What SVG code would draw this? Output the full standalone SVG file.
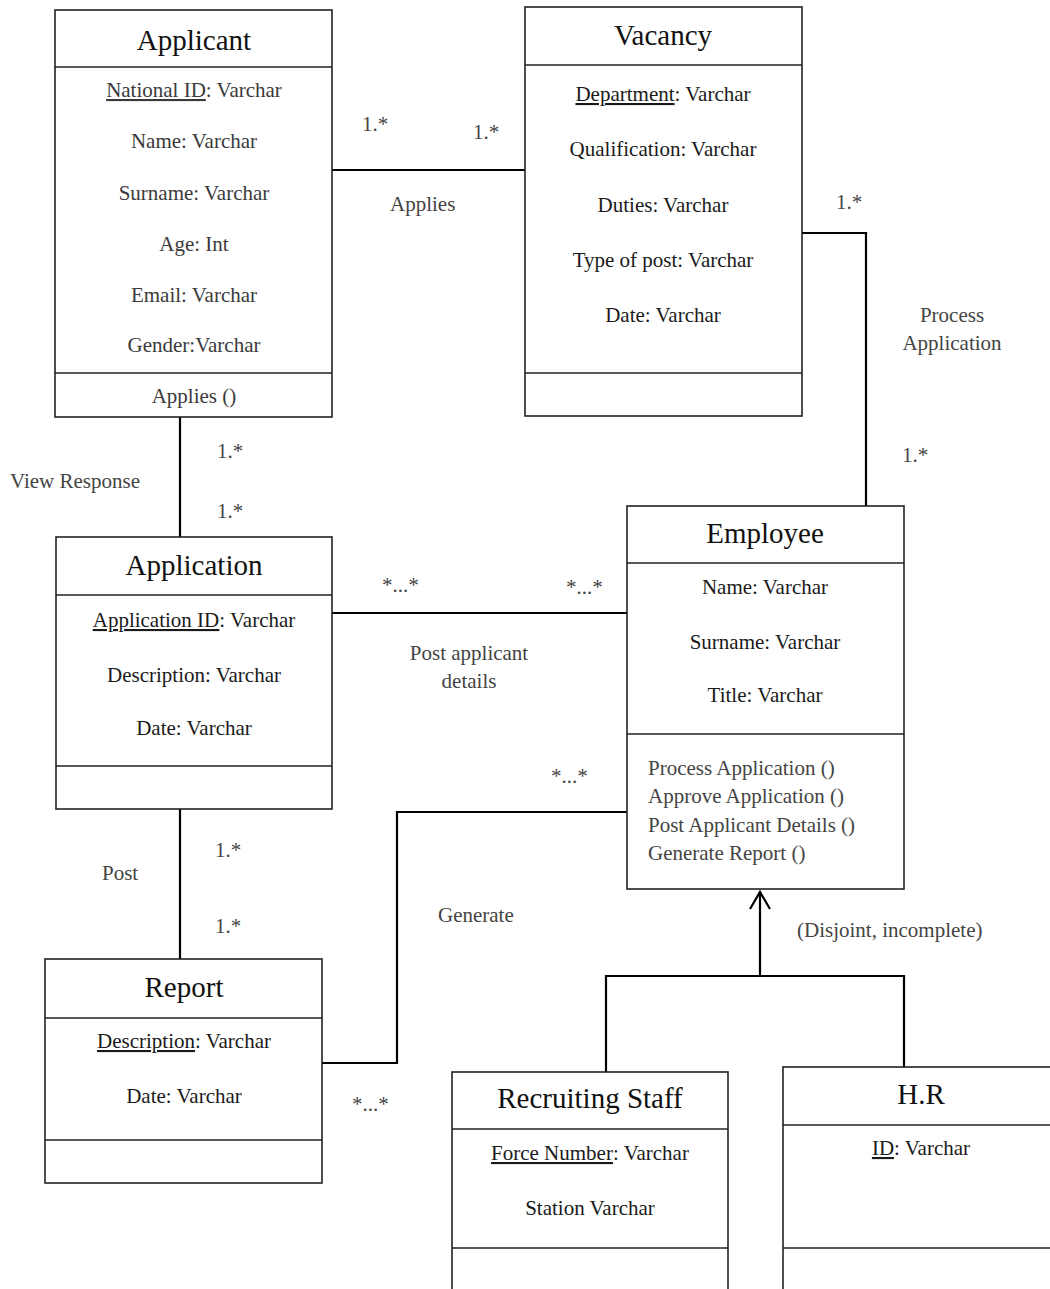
<svg xmlns="http://www.w3.org/2000/svg" width="1050" height="1289" viewBox="0 0 1050 1289">
  <style>
    .box { fill: #fff; stroke: #222; stroke-width: 1.6; }
    .sep { stroke: #222; stroke-width: 1.6; }
    .title { font-family: "Liberation Serif", "Times New Roman", serif; font-size: 29px; fill: #111; text-anchor: middle; }
    .attr { font-family: "Liberation Serif", "Times New Roman", serif; font-size: 21px; fill: #1a1a1a; text-anchor: middle; }
    .soft { fill: #3a3a3a; }
    .op { font-family: "Liberation Serif", "Times New Roman", serif; font-size: 21px; fill: #444; }
    .lbl { font-family: "Liberation Serif", "Times New Roman", serif; font-size: 21px; fill: #444; }
    .mid { text-anchor: middle; }
    .conn { fill: none; stroke: #000; stroke-width: 2.2; }
    .u { text-decoration: underline; }
  </style>
  <defs>
    <!-- open arrowhead for the generalisation, tip at the path end -->
    <marker id="open-arrow" markerUnits="userSpaceOnUse" markerWidth="26" markerHeight="26" refX="22" refY="12" orient="auto" viewBox="0 0 26 26">
      <path d="M5 2 L22 12 L5 22" fill="none" stroke="#000" stroke-width="2.2"/>
    </marker>
  </defs>
  <rect width="1050" height="1289" fill="#fff"/>

  <!-- connectors -->
  <g id="connectors">
    <path class="conn" d="M332 170 H525"/>
    <path class="conn" d="M802 233 H866 V506"/>
    <path class="conn" d="M180 417 V537"/>
    <path class="conn" d="M332 613 H627"/>
    <path class="conn" d="M180 809 V959"/>
    <path class="conn" d="M322 1063 H397 V812 H627"/>
    <path class="conn" d="M606 1072 V976 H904 V1067"/>
    <path class="conn" d="M760 976 V892" marker-end="url(#open-arrow)"/>
  </g>

  <!-- association and generalisation labels -->
  <g id="labels">
    <text class="lbl" x="362" y="131">1.*</text>
    <text class="lbl" x="473" y="139">1.*</text>
    <text class="lbl" x="390" y="211">Applies</text>
    <text class="lbl" x="836" y="209">1.*</text>
    <text class="lbl mid" x="952" y="322">Process</text>
    <text class="lbl mid" x="952" y="350">Application</text>
    <text class="lbl" x="902" y="462">1.*</text>
    <text class="lbl" x="10" y="488">View Response</text>
    <text class="lbl" x="217" y="458">1.*</text>
    <text class="lbl" x="217" y="518">1.*</text>
    <text class="lbl" x="382" y="592">*...*</text>
    <text class="lbl" x="566" y="594">*...*</text>
    <text class="lbl mid" x="469" y="660">Post applicant</text>
    <text class="lbl mid" x="469" y="688">details</text>
    <text class="lbl" x="551" y="783">*...*</text>
    <text class="lbl" x="215" y="857">1.*</text>
    <text class="lbl" x="102" y="880">Post</text>
    <text class="lbl" x="215" y="933">1.*</text>
    <text class="lbl" x="438" y="922">Generate</text>
    <text class="lbl" x="352" y="1111">*...*</text>
    <text class="lbl" x="797" y="937">(Disjoint, incomplete)</text>
  </g>

  <!-- Applicant -->
  <g id="applicant">
    <rect class="box" x="55" y="10" width="277" height="407" stroke-width="2"/>
    <line class="sep" x1="55" y1="67" x2="332" y2="67"/>
    <line class="sep" x1="55" y1="373" x2="332" y2="373"/>
    <text class="title" x="194" y="50" font-size="32">Applicant</text>
    <text class="attr soft" x="194" y="97"><tspan class="u">National ID</tspan>: Varchar</text>
    <text class="attr soft" x="194" y="148">Name: Varchar</text>
    <text class="attr soft" x="194" y="200">Surname: Varchar</text>
    <text class="attr soft" x="194" y="251">Age: Int</text>
    <text class="attr soft" x="194" y="302">Email: Varchar</text>
    <text class="attr soft" x="194" y="352">Gender:Varchar</text>
    <text class="attr soft" x="194" y="403">Applies ()</text>
  </g>

  <!-- Vacancy -->
  <g id="vacancy">
    <rect class="box" x="525" y="7" width="277" height="409"/>
    <line class="sep" x1="525" y1="65" x2="802" y2="65"/>
    <line class="sep" x1="525" y1="373" x2="802" y2="373"/>
    <text class="title" x="663" y="45">Vacancy</text>
    <text class="attr" x="663" y="101"><tspan class="u">Department</tspan>: Varchar</text>
    <text class="attr" x="663" y="156">Qualification: Varchar</text>
    <text class="attr" x="663" y="212">Duties: Varchar</text>
    <text class="attr" x="663" y="267">Type of post: Varchar</text>
    <text class="attr" x="663" y="322">Date: Varchar</text>
  </g>

  <!-- Application -->
  <g id="application">
    <rect class="box" x="56" y="537" width="276" height="272"/>
    <line class="sep" x1="56" y1="595" x2="332" y2="595"/>
    <line class="sep" x1="56" y1="766" x2="332" y2="766"/>
    <text class="title" x="194" y="575">Application</text>
    <text class="attr" x="194" y="627"><tspan class="u">Application ID</tspan>: Varchar</text>
    <text class="attr" x="194" y="682">Description: Varchar</text>
    <text class="attr" x="194" y="735">Date: Varchar</text>
  </g>

  <!-- Employee -->
  <g id="employee">
    <rect class="box" x="627" y="506" width="277" height="383"/>
    <line class="sep" x1="627" y1="563" x2="904" y2="563"/>
    <line class="sep" x1="627" y1="734" x2="904" y2="734"/>
    <text class="title" x="765" y="543">Employee</text>
    <text class="attr" x="765" y="594">Name: Varchar</text>
    <text class="attr" x="765" y="649">Surname: Varchar</text>
    <text class="attr" x="765" y="702">Title: Varchar</text>
    <text class="op" x="648" y="775">Process Application ()</text>
    <text class="op" x="648" y="803">Approve Application ()</text>
    <text class="op" x="648" y="832">Post Applicant Details ()</text>
    <text class="op" x="648" y="860">Generate Report ()</text>
  </g>

  <!-- Report -->
  <g id="report">
    <rect class="box" x="45" y="959" width="277" height="224"/>
    <line class="sep" x1="45" y1="1018" x2="322" y2="1018"/>
    <line class="sep" x1="45" y1="1140" x2="322" y2="1140"/>
    <text class="title" x="184" y="997">Report</text>
    <text class="attr" x="184" y="1048"><tspan class="u">Description</tspan>: Varchar</text>
    <text class="attr" x="184" y="1103">Date: Varchar</text>
  </g>

  <!-- Recruiting Staff -->
  <g id="recruiting-staff">
    <rect class="box" x="452" y="1072" width="276" height="240"/>
    <line class="sep" x1="452" y1="1129" x2="728" y2="1129"/>
    <line class="sep" x1="452" y1="1248" x2="728" y2="1248"/>
    <text class="title" x="590" y="1108">Recruiting Staff</text>
    <text class="attr" x="590" y="1160"><tspan class="u">Force Number</tspan>: Varchar</text>
    <text class="attr" x="590" y="1215">Station Varchar</text>
  </g>

  <!-- H.R -->
  <g id="hr">
    <rect class="box" x="783" y="1067" width="276" height="245"/>
    <line class="sep" x1="783" y1="1125" x2="1059" y2="1125"/>
    <line class="sep" x1="783" y1="1248" x2="1059" y2="1248"/>
    <text class="title" x="921" y="1104">H.R</text>
    <text class="attr" x="921" y="1155"><tspan class="u">ID</tspan>: Varchar</text>
  </g>
</svg>
